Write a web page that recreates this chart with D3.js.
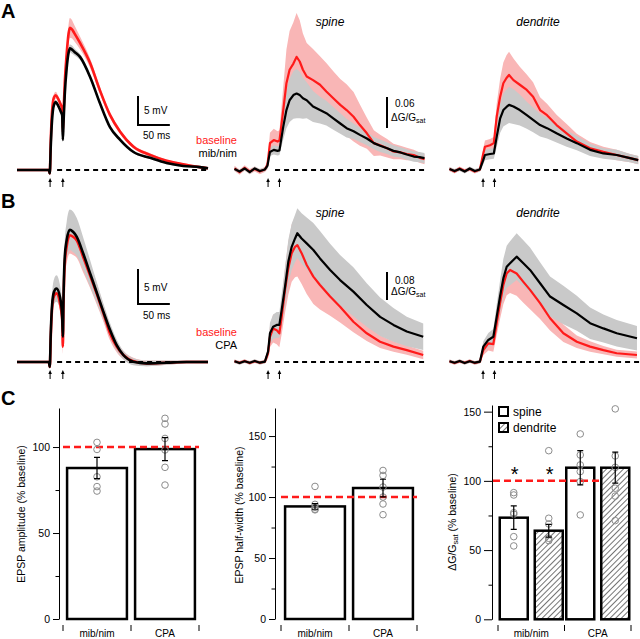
<!DOCTYPE html>
<html><head><meta charset="utf-8">
<script src="https://cdnjs.cloudflare.com/ajax/libs/d3/7.8.5/d3.min.js"></script>
<style>
body{margin:0;background:#fff}
svg{display:block}
text{font-family:"Liberation Sans",Arial,Helvetica,sans-serif;fill:#000}
</style>
</head><body><svg id="fig" width="640" height="639"></svg>
<script>
// ---------- DATA: EPSP traces (ms, mV) ----------
const tEA = [0,20,40,50,51.5,53,55,58,61,65,69,71,72,73,75,78,81,83,86,90,99,115,130,146,162,183,209,235,261,287,300];
const epspA_base = [0,0,0,0,-0.6,5,10,12.5,12.9,12.2,11.2,10.6,6.5,9.5,15,20,23.5,24.5,24.3,23.6,21.9,18.4,13.8,9.5,6.6,4.0,2.6,1.6,1.0,0.5,0.3];
const epspA_mib  = [0,0,0,0,-0.6,4,8.5,11.2,11.7,11,10,9.4,5.2,8,13,17.5,20.2,21,20.8,20.4,19.5,16,11.6,7.4,5.2,3.1,2.1,1.2,0.7,0.5,0.3];
const epspA_baseSem = [0.1,0.1,0.1,0.1,0.1,0.3,0.5,0.6,0.6,0.5,0.5,0.5,0.5,0.6,0.9,1.3,1.6,1.7,1.6,1.4,1.1,0.8,0.6,0.5,0.4,0.3,0.3,0.2,0.2,0.2,0.2];
const epspA_mibSem  = [0.1,0.1,0.1,0.1,0.1,0.3,0.4,0.4,0.4,0.4,0.4,0.4,0.4,0.4,0.5,0.6,0.7,0.7,0.7,0.6,0.5,0.4,0.4,0.3,0.3,0.2,0.2,0.2,0.2,0.2,0.2];

const tEB = [0,20,40,50,51.5,53,55,58,62,67.5,71,72,73,75,78,83,88,93.7,104,114.7,125,135.6,146,156.6,167,182.7,203.7,235,266,300];
const epspB_base = [0,0,0,0,-0.7,3.5,7.5,9.4,9.8,8.4,6,2.2,8,14,16.5,18.1,17.9,17.4,15.0,12.4,9.8,7.0,4.1,2.2,1.0,0.1,-0.2,-0.1,0,0];
const epspB_cpa  = [0,0,0,0,-0.7,4,8,10,10.5,9.3,6.5,3.6,9,15,17.4,18.9,18.6,17.9,15.5,12.7,10.0,7.2,4.6,2.4,1.0,0.05,-0.2,-0.1,0,0];
const epspB_baseSem = [0.1,0.1,0.1,0.1,0.1,0.5,0.8,1.0,1.0,1.0,1.0,1.0,1.4,2.0,2.4,2.6,2.6,2.5,2.2,1.8,1.5,1.2,1.0,0.8,0.6,0.5,0.4,0.3,0.2,0.2];
const epspB_cpaSem  = [0.1,0.1,0.1,0.1,0.1,0.8,1.4,1.8,1.9,1.7,1.5,1.3,1.6,2.2,2.6,2.9,2.9,2.7,2.3,1.9,1.5,1.2,1.0,0.8,0.6,0.5,0.4,0.3,0.2,0.2];

// ---------- DATA: Ca imaging traces (ms, dG/Gsat) ----------
const tSA = [0,8,16,24,32,40,48,52,56,62,68,71,77,82,87,93,98,103,108,114,124,135,145,156,167,177,188,198,209,220,230,241,251,262,272,283,292,300];
const spineA_base = [0.003,-0.004,0.004,-0.003,0.002,-0.003,0.001,0.010,0.052,0.058,0.055,0.057,0.116,0.168,0.194,0.206,0.219,0.21,0.194,0.181,0.174,0.165,0.152,0.139,0.126,0.116,0.103,0.087,0.071,0.052,0.048,0.042,0.036,0.034,0.031,0.029,0.024,0.021];
const spineA_mib  = [0.002,-0.003,0.003,-0.004,0.003,-0.002,0.001,0.008,0.035,0.039,0.037,0.038,0.084,0.116,0.135,0.145,0.148,0.145,0.139,0.135,0.123,0.116,0.110,0.100,0.090,0.081,0.075,0.068,0.061,0.052,0.047,0.042,0.037,0.034,0.030,0.026,0.025,0.023];
const spineA_baseSem = [0.005,0.005,0.005,0.005,0.005,0.005,0.005,0.008,0.02,0.022,0.02,0.02,0.045,0.065,0.075,0.08,0.085,0.08,0.07,0.065,0.06,0.055,0.055,0.052,0.05,0.05,0.048,0.04,0.03,0.025,0.02,0.018,0.015,0.013,0.012,0.01,0.01,0.01];
const spineA_mibSem  = [0.004,0.004,0.004,0.004,0.004,0.004,0.004,0.006,0.008,0.009,0.009,0.009,0.025,0.035,0.042,0.046,0.048,0.045,0.04,0.035,0.03,0.026,0.024,0.022,0.02,0.018,0.015,0.014,0.013,0.012,0.012,0.011,0.011,0.01,0.01,0.01,0.01,0.01];

const tDA = [0,8,16,24,32,40,48,53,56,64,70,74.5,80,85,90,94,101,111,122,132,143,154,169,185,201,222,243,264,285,298];
const dendA_base = [0.002,-0.003,0.003,-0.002,0.002,-0.003,0.001,0.030,0.045,0.048,0.052,0.103,0.142,0.168,0.178,0.184,0.174,0.165,0.155,0.142,0.116,0.106,0.087,0.071,0.055,0.042,0.035,0.029,0.023,0.019];
const dendA_mib  = [0.002,-0.002,0.002,-0.003,0.003,-0.002,0.001,0.018,0.029,0.031,0.032,0.064,0.100,0.116,0.122,0.126,0.123,0.116,0.106,0.097,0.087,0.081,0.071,0.061,0.052,0.039,0.032,0.029,0.023,0.019];
const dendA_baseSem = [0.004,0.004,0.004,0.004,0.004,0.004,0.004,0.01,0.012,0.012,0.012,0.025,0.035,0.04,0.044,0.045,0.042,0.035,0.03,0.028,0.025,0.022,0.02,0.018,0.015,0.012,0.01,0.01,0.008,0.008];
const dendA_mibSem  = [0.004,0.004,0.004,0.004,0.004,0.004,0.004,0.008,0.01,0.01,0.01,0.02,0.028,0.032,0.034,0.035,0.034,0.03,0.026,0.024,0.022,0.02,0.018,0.016,0.014,0.012,0.01,0.01,0.008,0.008];

const tSB = [0,8,16,24,32,40,48,53,56,61,66.6,70.8,74.5,79.8,85,90.3,95.6,99.2,106,114,124.5,135,151,166.7,187.7,208.8,229.9,251,272,298];
const spineB_base = [0.002,-0.002,0.003,-0.003,0.002,-0.002,0.001,0.025,0.072,0.096,0.091,0.082,0.129,0.206,0.268,0.311,0.329,0.334,0.311,0.277,0.244,0.22,0.187,0.158,0.115,0.082,0.058,0.044,0.034,0.02];
const spineB_cpa  = [0.002,-0.003,0.002,-0.002,0.003,-0.002,0.001,0.03,0.082,0.101,0.106,0.106,0.149,0.215,0.287,0.329,0.353,0.368,0.353,0.339,0.32,0.296,0.263,0.234,0.201,0.163,0.129,0.106,0.087,0.072];
const spineB_baseSem = [0.005,0.005,0.005,0.005,0.005,0.005,0.005,0.015,0.03,0.04,0.04,0.04,0.05,0.065,0.075,0.082,0.087,0.09,0.088,0.083,0.078,0.07,0.055,0.045,0.03,0.022,0.018,0.015,0.013,0.012];
const spineB_cpaSem  = [0.005,0.005,0.005,0.005,0.005,0.005,0.005,0.015,0.03,0.035,0.037,0.037,0.045,0.055,0.062,0.066,0.068,0.071,0.072,0.074,0.077,0.078,0.075,0.072,0.07,0.062,0.055,0.048,0.042,0.038];

const tDB = [0,8,16,24,32,40,48,53.4,61.3,69.2,74.5,79.8,85,90.3,95.6,106,116.6,127.2,143,158.8,179.8,201,222,243,264,296];
const dendB_base = [0.002,-0.003,0.002,-0.002,0.003,-0.003,0.001,0.034,0.053,0.051,0.111,0.168,0.22,0.253,0.263,0.253,0.229,0.206,0.168,0.125,0.082,0.058,0.044,0.034,0.025,0.02];
const dendB_cpa  = [0.002,-0.002,0.003,-0.003,0.002,-0.002,0.001,0.044,0.063,0.072,0.129,0.187,0.239,0.272,0.282,0.301,0.282,0.263,0.225,0.187,0.163,0.139,0.111,0.096,0.082,0.068];
const dendB_baseSem = [0.005,0.005,0.005,0.005,0.005,0.005,0.005,0.015,0.02,0.022,0.035,0.045,0.055,0.062,0.066,0.064,0.06,0.055,0.045,0.035,0.025,0.018,0.015,0.012,0.01,0.01];
const dendB_cpaSem  = [0.005,0.005,0.005,0.005,0.005,0.005,0.005,0.015,0.02,0.022,0.035,0.045,0.055,0.06,0.063,0.067,0.066,0.064,0.06,0.057,0.055,0.05,0.045,0.04,0.038,0.035];

const epspStims = [52, 72];
const imgStims = [53, 71];

// ---------- DATA: summary bars (% baseline) ----------
const groups = ["mib/nim", "CPA"];
const ampMean = [87.8, 98.8];
const ampErr  = [6.2, 6.7];
const ampPts  = [[102.7, 98.6, 82.7, 77.0, 74.4], [116.7, 113.4, 105.0, 98.3, 88.2, 77.9]];
const hwMean = [92.3, 107.4];
const hwErr  = [2.3, 7.2];
const hwPts  = [[108.7, 94.0, 91.5, 90.0, 89.5], [121.8, 117.7, 108.2, 100.0, 94.3, 85.5]];
const dgKeys = ["spine", "dendrite"];
const dgMean = [[73.4, 64.0], [109.5, 109.5]];
const dgErr  = [[8.5, 4.6], [12.4, 11.2]];
const dgPts  = [[[91.5, 89.8, 77.0, 75.9, 59.7, 53.0], [121.8, 73.0, 68.9, 58.5, 56.8]],
                [[133.9, 118.7, 111.5, 106.7, 99.5, 75.4], [152.0, 118.0, 109.8, 94.7, 89.0, 71.3]]];
const dgSig  = [["*", "*"], ["", ""]];

// ---------- DRAWING ----------
const svg = d3.select("#fig");
const RED = "#ff1a1a", PINK = "#f9b6b6", GREY = "#c9c9c9";
const defs = svg.append("defs");
const pat = defs.append("pattern").attr("id", "hatch").attr("patternUnits", "userSpaceOnUse")
  .attr("width", 4).attr("height", 4).attr("patternTransform", "rotate(45)");
pat.append("rect").attr("width", 4).attr("height", 4).attr("fill", "#fff");
pat.append("line").attr("x1", 0).attr("y1", 0).attr("x2", 0).attr("y2", 4).attr("stroke", "#000").attr("stroke-width", 1.1);

function trace(c) {
  const x = d3.scaleLinear().domain([0, 300]).range([c.x0, c.x0 + c.w]);
  const y = d3.scaleLinear().domain([0, c.unit]).range([c.y0, c.y0 - c.unitPx]);
  const g = svg.append("g");
  const idx = d3.range(c.t.length);
  const area = (v, s) => d3.area().x(i => x(c.t[i])).y0(i => y(v[i] - s[i])).y1(i => y(v[i] + s[i])).curve(c.curve);
  const line = v => d3.line().x(i => x(c.t[i])).y(i => y(v[i])).curve(c.curve);
  g.append("path").datum(idx).attr("d", area(c.base, c.baseSem)).attr("fill", PINK);
  g.append("path").datum(idx).attr("d", area(c.drug, c.drugSem)).attr("fill", GREY);
  g.append("path").datum(idx).attr("d", line(c.base)).attr("fill", "none").attr("stroke", RED)
    .attr("stroke-width", c.lw).attr("stroke-linejoin", "round");
  g.append("path").datum(idx).attr("d", line(c.drug)).attr("fill", "none").attr("stroke", "#000")
    .attr("stroke-width", c.lw).attr("stroke-linejoin", "round");
  g.append("line").attr("x1", x(c.stims[0]) + 7).attr("x2", x(300)).attr("y1", y(0)).attr("y2", y(0))
    .attr("stroke", "#000").attr("stroke-width", 2).attr("stroke-dasharray", "5,4");
  c.stims.forEach(s => {
    const ax = x(s), b = y(0);
    g.append("line").attr("x1", ax).attr("x2", ax).attr("y1", b + 17).attr("y2", b + 10)
      .attr("stroke", "#000").attr("stroke-width", 1);
    g.append("path").attr("d", `M${ax - 1.8},${b + 12}L${ax},${b + 8}L${ax + 1.8},${b + 12}Z`).attr("fill", "#000");
  });
  return { x, y, g };
}

function title(txt, x, y) {
  svg.append("text").attr("x", x).attr("y", y).attr("text-anchor", "middle")
    .attr("font-size", 12).attr("font-style", "italic").text(txt);
}
function legend(lines, x, y) {
  lines.forEach((l, i) => svg.append("text").attr("x", x).attr("y", y + i * 13).attr("text-anchor", "end")
    .attr("font-size", 11).style("fill", l[1]).text(l[0]));
}
function epspScale(tr, bx, by, ty1, ty2) {
  const h = tr.y(0) - tr.y(5), w = tr.x(50) - tr.x(0);
  svg.append("path").attr("d", `M${bx},${by - h}V${by}H${bx + w}`).attr("fill", "none")
    .attr("stroke", "#000").attr("stroke-width", 2);
  svg.append("text").attr("x", bx + 6).attr("y", ty1).attr("font-size", 10).text("5 mV");
  svg.append("text").attr("x", bx + 5).attr("y", ty2).attr("font-size", 10).text("50 ms");
}
function imgScale(tr, val, bx, by, ty1, ty2) {
  const h = tr.y(0) - tr.y(val);
  svg.append("line").attr("x1", bx).attr("x2", bx).attr("y1", by - h).attr("y2", by)
    .attr("stroke", "#000").attr("stroke-width", 2);
  svg.append("text").attr("x", bx + 8).attr("y", ty1).attr("font-size", 10).text(val.toFixed(2));
  const t = svg.append("text").attr("x", bx + 4).attr("y", ty2).attr("font-size", 10);
  t.append("tspan").text("\u0394G/G");
  t.append("tspan").attr("font-size", 7).attr("dy", 2).text("sat");
}

// Panel letters
[["A", 18], ["B", 208], ["C", 405]].forEach(d => svg.append("text").attr("x", 1).attr("y", d[1])
  .attr("font-size", 20).attr("font-weight", "bold").text(d[0]));

// Panel A
const eA = trace({ t: tEA, base: epspA_base, drug: epspA_mib, baseSem: epspA_baseSem, drugSem: epspA_mibSem,
  x0: 17, w: 191, y0: 170, unit: 5, unitPx: 29, lw: 2.6, curve: d3.curveMonotoneX, stims: epspStims });
epspScale(eA, 138, 125, 114, 139);
legend([["baseline", RED], ["mib/nim", "#000"]], 237, 144);
const sA = trace({ t: tSA, base: spineA_base, drug: spineA_mib, baseSem: spineA_baseSem, drugSem: spineA_mibSem,
  x0: 234.5, w: 190, y0: 170, unit: 0.06, unitPx: 31, lw: 2.2, curve: d3.curveLinear, stims: imgStims });
imgScale(sA, 0.06, 387, 128, 107, 121);
const dA = trace({ t: tDA, base: dendA_base, drug: dendA_mib, baseSem: dendA_baseSem, drugSem: dendA_mibSem,
  x0: 449.5, w: 190, y0: 170, unit: 0.06, unitPx: 31, lw: 2.2, curve: d3.curveLinear, stims: imgStims });
title("spine", 330, 26);
title("dendrite", 538, 26);

// Panel B
const eB = trace({ t: tEB, base: epspB_base, drug: epspB_cpa, baseSem: epspB_baseSem, drugSem: epspB_cpaSem,
  x0: 17, w: 191, y0: 362, unit: 5, unitPx: 35, lw: 2.6, curve: d3.curveMonotoneX, stims: epspStims });
epspScale(eB, 138, 304, 291, 319);
legend([["baseline", RED], ["CPA", "#000"]], 237, 336);
const sB = trace({ t: tSB, base: spineB_base, drug: spineB_cpa, baseSem: spineB_baseSem, drugSem: spineB_cpaSem,
  x0: 234.5, w: 190, y0: 362, unit: 0.08, unitPx: 28, lw: 2.2, curve: d3.curveLinear, stims: imgStims });
imgScale(sB, 0.08, 387, 300, 284, 295);
const dB = trace({ t: tDB, base: dendB_base, drug: dendB_cpa, baseSem: dendB_baseSem, drugSem: dendB_cpaSem,
  x0: 449.5, w: 190, y0: 362, unit: 0.08, unitPx: 28, lw: 2.2, curve: d3.curveLinear, stims: imgStims });
title("spine", 330, 217);
title("dendrite", 538, 217);

// ---------- Panel C ----------
function yAxis(y, ax, major, minor, tl) {
  const g = svg.append("g").attr("transform", `translate(${ax},0)`);
  g.call(d3.axisLeft(y).tickValues(major).tickSize(tl).tickSizeOuter(0).tickPadding(3));
  const m = svg.append("g").attr("transform", `translate(${ax},0)`);
  m.call(d3.axisLeft(y).tickValues(minor).tickSize(3.5).tickFormat(""));
  m.select(".domain").remove();
  [g, m].forEach(s => {
    s.selectAll("path,line").attr("stroke", "#000").attr("stroke-width", 1);
    s.selectAll("text").attr("font-size", 10.5).attr("font-family", "Liberation Sans, Arial, sans-serif");
  });
}
function yLabel(x, y, build) {
  const t = svg.append("text").attr("transform", `translate(${x},${y}) rotate(-90)`)
    .attr("text-anchor", "middle").attr("font-size", 10.5);
  build(t);
}
function xTicks(bounds, centers) {
  bounds.forEach(b => svg.append("line").attr("x1", b).attr("x2", b).attr("y1", 625).attr("y2", 631)
    .attr("stroke", "#000").attr("stroke-width", 1));
  centers.forEach((c, i) => svg.append("text").attr("x", c).attr("y", 637).attr("text-anchor", "middle")
    .attr("font-size", 10).text(groups[i]));
}
function errPts(cx, y, mean, err, pts) {
  pts.forEach(v => svg.append("circle").attr("cx", cx).attr("cy", y(v)).attr("r", 3.3)
    .attr("fill", "none").attr("stroke", "#8c8c8c").attr("stroke-width", 1));
  const lo = y(mean - err), hi = y(mean + err);
  svg.append("path").attr("d", `M${cx},${lo}V${hi}M${cx - 3},${lo}H${cx + 3}M${cx - 3},${hi}H${cx + 3}`)
    .attr("stroke", "#000").attr("stroke-width", 1.2).attr("fill", "none");
}
function simpleBars(ax, r0, r1, yMax, major, minor, means, errs, pts, label) {
  const y = d3.scaleLinear().domain([0, yMax]).range([619, 408]);
  const x = d3.scaleBand().domain(groups).range([r0, r1]).paddingInner(0.12).paddingOuter(0.06);
  yAxis(y, ax, major, minor, 6);
  groups.forEach((gname, i) => svg.append("rect").attr("x", x(gname)).attr("y", y(means[i]))
    .attr("width", x.bandwidth()).attr("height", y(0) - y(means[i]))
    .attr("fill", "#fff").attr("stroke", "#000").attr("stroke-width", 2.5));
  svg.append("line").attr("x1", r0).attr("x2", r1).attr("y1", y(100)).attr("y2", y(100))
    .attr("stroke", RED).attr("stroke-width", 2.5).attr("stroke-dasharray", "7,4");
  groups.forEach((gname, i) => errPts(x(gname) + x.bandwidth() / 2, y, means[i], errs[i], pts[i]));
  xTicks([r0, (x(groups[0]) + x.bandwidth() + x(groups[1])) / 2, r1], groups.map(gname => x(gname) + x.bandwidth() / 2));
  label();
}

simpleBars(59, 63, 199, 122.7, [0, 50, 100], [25, 75], ampMean, ampErr, ampPts,
  () => yLabel(25, 514, t => t.text("EPSP amplitude (% baseline)")));
simpleBars(275, 281, 417, 173, [0, 50, 100, 150], [25, 75, 125], hwMean, hwErr, hwPts,
  () => yLabel(243, 515, t => t.text("EPSP half-width (% baseline)")));

// Third chart: grouped bars
(function () {
  const y = d3.scaleLinear().domain([0, 154.8]).range([619.3, 405]);
  const x0 = d3.scaleBand().domain(groups).range([498, 631]);
  const x1 = d3.scaleBand().domain(dgKeys).range([0, x0.bandwidth()]).paddingInner(0.2).paddingOuter(0.05);
  yAxis(y, 492, [0, 50, 100, 150], [25, 75, 125], 8);
  groups.forEach((gname, gi) => dgKeys.forEach((k, ki) => {
    const m = dgMean[gi][ki];
    svg.append("rect").attr("x", x0(gname) + x1(k)).attr("y", y(m)).attr("width", x1.bandwidth())
      .attr("height", y(0) - y(m)).attr("fill", ki ? "url(#hatch)" : "#fff")
      .attr("stroke", "#000").attr("stroke-width", 2.5);
  }));
  svg.append("line").attr("x1", 493).attr("x2", x0("CPA") + x1("dendrite")).attr("y1", y(100)).attr("y2", y(100))
    .attr("stroke", RED).attr("stroke-width", 2.5).attr("stroke-dasharray", "7,4");
  groups.forEach((gname, gi) => dgKeys.forEach((k, ki) => {
    const cx = x0(gname) + x1(k) + x1.bandwidth() / 2;
    errPts(cx, y, dgMean[gi][ki], dgErr[gi][ki], dgPts[gi][ki]);
    if (dgSig[gi][ki]) svg.append("text").attr("x", cx + 1).attr("y", 481).attr("text-anchor", "middle")
      .attr("font-size", 20).text(dgSig[gi][ki]);
  }));
  xTicks([498, x0("CPA"), 631], groups.map(gname => x0(gname) + x0.bandwidth() / 2));
  // legend
  dgKeys.forEach((k, i) => {
    svg.append("rect").attr("x", 499).attr("y", 407 + i * 16).attr("width", 9).attr("height", 9)
      .attr("fill", i ? "url(#hatch)" : "#fff").attr("stroke", "#000").attr("stroke-width", 2);
    svg.append("text").attr("x", 513).attr("y", 416 + i * 16).attr("font-size", 12).text(k);
  });
  yLabel(456, 522, t => {
    t.append("tspan").text("\u0394G/G");
    t.append("tspan").attr("font-size", 7.5).attr("dy", 2).text("sat");
    t.append("tspan").attr("dy", -2).text(" (% baseline)");
  });
})();
</script></body></html>
